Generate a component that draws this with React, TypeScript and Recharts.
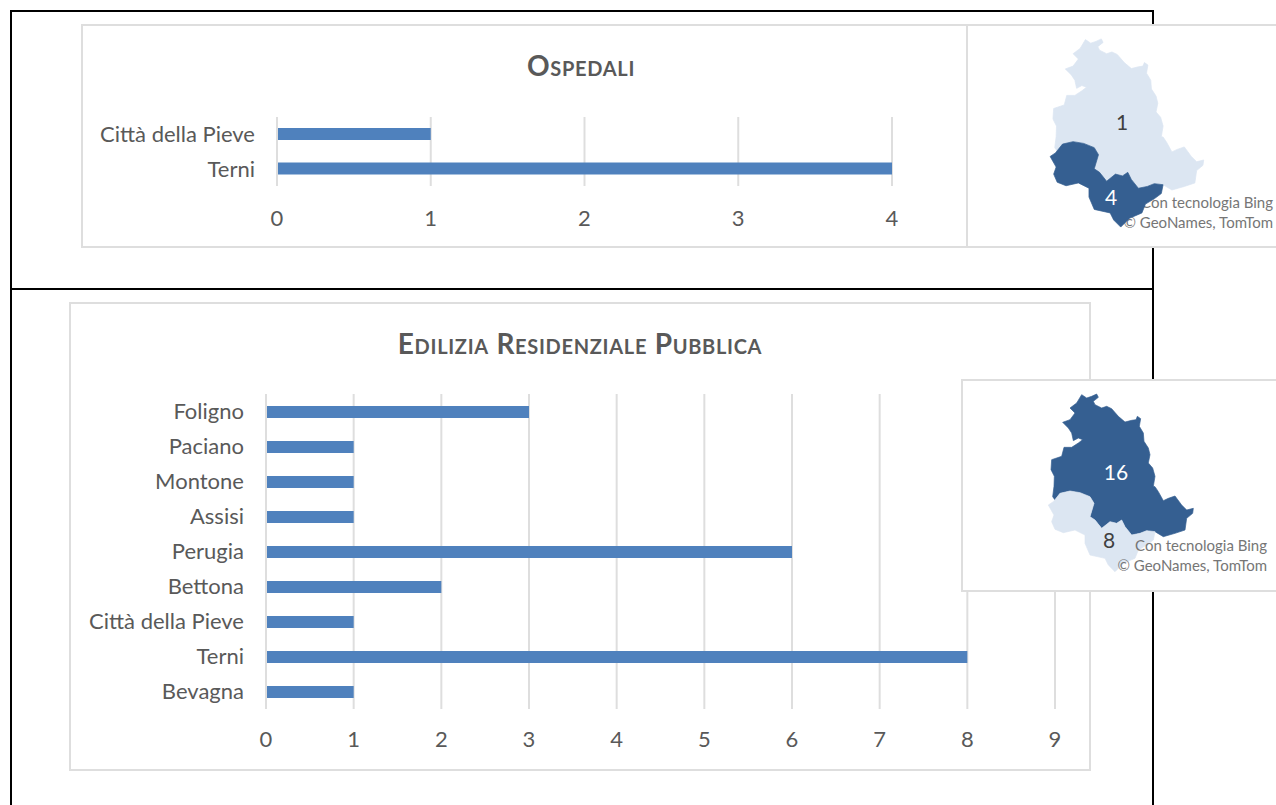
import { BarChart, Bar, XAxis, YAxis, CartesianGrid } from 'recharts'

const FONT = 'Lato, Carlito, sans-serif'
const GREY_LINE = '#dedede'
const TEXT = '#595959'
const BAR = '#4f81bd'
const DARK = '#355f91'
const LIGHT = '#dce6f2'

const ospedaliComuni = ['Città della Pieve', 'Terni']
const ospedaliValori = [1, 4]
const ospedaliTicks = [0, 1, 2, 3, 4]

const erpComuni = ['Foligno', 'Paciano', 'Montone', 'Assisi', 'Perugia', 'Bettona', 'Città della Pieve', 'Terni', 'Bevagna']
const erpValori = [3, 1, 1, 1, 6, 2, 1, 8, 1]
const erpTicks = [0, 1, 2, 3, 4, 5, 6, 7, 8, 9]

// Provincial outlines of Umbria
const provPerugia =
  'M395,74 L410,84 L425,79 L440,72 L445,82 L430,94 L435,104 L455,114 L470,109 L485,116 L505,139 L525,156 L545,151 L558,149 L562,139 L572,146 L568,169 L580,189 L582,214 L595,234 L600,254 L595,279 L608,294 L615,319 L610,349 L615,350 L625,365 L640,392 L655,385 L675,378 L695,405 L710,420 L730,415 L728,430 L710,445 L705,480 L675,490 L640,500 L615,485 L590,482 L570,490 L545,495 L525,470 L515,450 L500,460 L480,455 L455,475 L435,450 L420,440 L432,400 L420,380 L390,368 L360,363 L330,370 L315,390 L308,380 L312,349 L313,319 L303,299 L305,269 L335,259 L342,232 L365,232 L385,219 L398,209 L385,204 L370,212 L365,189 L355,174 L338,157 L360,149 L375,129 L360,114 L380,99 Z'
const provTerni =
  'M330,370 L360,363 L390,368 L420,380 L432,400 L420,440 L435,450 L455,475 L480,455 L500,460 L515,450 L525,470 L545,495 L570,490 L590,482 L615,485 L610,510 L590,525 L565,540 L555,565 L520,580 L495,605 L475,585 L465,565 L420,555 L405,520 L405,495 L375,480 L340,488 L315,478 L305,455 L312,435 L295,405 L310,395 Z'

interface Box {
  left: number
  top: number
  width: number
  height: number
}

interface GraficoProps extends Box {
  titolo: string
  titoloX: number
  titoloY: number
  comuni: string[]
  valori: number[]
  ticks: number[]
  axisWidth: number
  axisHeight: number
  xTickMargin: number
  marginTop: number
  marginRight: number
}

function Grafico(p: GraficoProps) {
  const dati = p.comuni.map((comune, i) => ({ comune, valore: p.valori[i] }))
  const tick = { fontSize: 22, fill: TEXT, fontFamily: FONT }

  return (
    <div style={{ position: 'absolute', left: p.left, top: p.top, width: p.width, height: p.height, background: '#fff', boxShadow: `inset 0 0 0 2px ${GREY_LINE}` }}>
      <div style={{
        position: 'absolute', left: p.titoloX - p.left - 300, top: p.titoloY - p.top - 20, width: 600, height: 40, lineHeight: '40px',
        textAlign: 'center', fontFamily: FONT, fontWeight: 700, fontSize: 28, letterSpacing: 0.7, fontVariant: 'small-caps', color: TEXT,
      }}>
        {p.titolo}
      </div>
      <BarChart
        layout="vertical"
        width={p.width}
        height={p.height}
        data={dati}
        margin={{ top: p.marginTop, right: p.marginRight, left: 0, bottom: 0 }}
        style={{ position: 'absolute', left: 0, top: 0 }}
      >
        <CartesianGrid horizontal={false} stroke={GREY_LINE} strokeWidth={2} />
        <XAxis
          type="number"
          domain={[p.ticks[0], p.ticks[p.ticks.length - 1]]}
          ticks={p.ticks}
          height={p.axisHeight}
          axisLine={false}
          tickLine={false}
          tickSize={0}
          tickMargin={p.xTickMargin}
          tick={tick}
        />
        <YAxis
          type="category"
          dataKey="comune"
          width={p.axisWidth}
          interval={0}
          axisLine={{ stroke: GREY_LINE, strokeWidth: 2 }}
          tickLine={false}
          tickSize={0}
          tickMargin={22}
          tick={tick}
        />
        <Bar dataKey="valore" fill={BAR} barSize={12} isAnimationActive={false} />
      </BarChart>
    </div>
  )
}

interface MappaProps extends Box {
  scala: number
  offX: number
  offY: number
  scuraNord: boolean
  testoDx: number
  testoY: number[]
  etichette: { testo: string; x: number; y: number; colore: string }[]
}

function Mappa(p: MappaProps) {
  const attribuzione = ['Con tecnologia Bing', '© GeoNames, TomTom']
  const shape = { strokeWidth: 2, strokeLinejoin: 'round' as const }
  return (
    <svg width={p.width} height={p.height} style={{ position: 'absolute', left: p.left, top: p.top, background: '#fff' }}>
      <rect x={1} y={1} width={p.width + 4} height={p.height - 2} fill="#fff" stroke={GREY_LINE} strokeWidth={2} />
      <g transform={`translate(${-p.left} ${-p.top})`}>
        <g transform={`translate(${p.offX} ${p.offY}) scale(${p.scala})`}>
          <path d={provPerugia} fill={p.scuraNord ? DARK : LIGHT} stroke={p.scuraNord ? DARK : LIGHT} {...shape} />
          {p.scuraNord && <path d={provTerni} fill={LIGHT} stroke={LIGHT} {...shape} />}
        </g>
        {attribuzione.map((riga, i) => (
          <text key={riga} x={p.testoDx} y={p.testoY[i]} textAnchor="end" dominantBaseline="middle" fontFamily={FONT} fontSize={15} fill="#767676">
            {riga}
          </text>
        ))}
        {!p.scuraNord && (
          <g transform={`translate(${p.offX} ${p.offY}) scale(${p.scala})`}>
            <path d={provTerni} fill={DARK} stroke={DARK} {...shape} />
          </g>
        )}
        {p.etichette.map(e => (
          <text key={e.testo} x={e.x} y={e.y} textAnchor="middle" dominantBaseline="middle" fontFamily={FONT} fontSize={21} fill={e.colore}>
            {e.testo}
          </text>
        ))}
      </g>
    </svg>
  )
}

export default function App() {
  return (
    <div style={{ position: 'absolute', left: 0, top: 0, width: 1276, height: 805, overflow: 'hidden', background: '#fff' }}>
      {/* table frame */}
      <div style={{ position: 'absolute', left: 10, top: 10, width: 1144, height: 900, boxSizing: 'border-box', border: '2px solid #000' }} />
      <div style={{ position: 'absolute', left: 10, top: 288, width: 1144, height: 2, background: '#000' }} />

      <Grafico
        left={81}
        top={24}
        width={888}
        height={224}
        titolo="Ospedali"
        titoloX={581}
        titoloY={65}
        comuni={ospedaliComuni}
        valori={ospedaliValori}
        ticks={ospedaliTicks}
        axisWidth={196}
        axisHeight={62}
        xTickMargin={24}
        marginTop={93}
        marginRight={77}
      />
      <Mappa
        left={966}
        top={24}
        width={310}
        height={224}
        scala={0.353}
        offX={946}
        offY={13.5}
        scuraNord={false}
        testoDx={1273}
        testoY={[204, 224]}
        etichette={[
          { testo: '1', x: 1122, y: 125, colore: '#404040' },
          { testo: '4', x: 1111, y: 200, colore: '#ffffff' },
        ]}
      />

      <Grafico
        left={69}
        top={302}
        width={1022}
        height={469}
        titolo="Edilizia Residenziale Pubblica"
        titoloX={580}
        titoloY={343}
        comuni={erpComuni}
        valori={erpValori}
        ticks={erpTicks}
        axisWidth={197}
        axisHeight={62}
        xTickMargin={22}
        marginTop={92}
        marginRight={36}
      />
      <Mappa
        left={961}
        top={379}
        width={315}
        height={213}
        scala={1 / 3}
        offX={950}
        offY={370}
        scuraNord
        testoDx={1267}
        testoY={[547, 567]}
        etichette={[
          { testo: '16', x: 1116, y: 475, colore: '#ffffff' },
          { testo: '8', x: 1109, y: 543, colore: '#404040' },
        ]}
      />
    </div>
  )
}
